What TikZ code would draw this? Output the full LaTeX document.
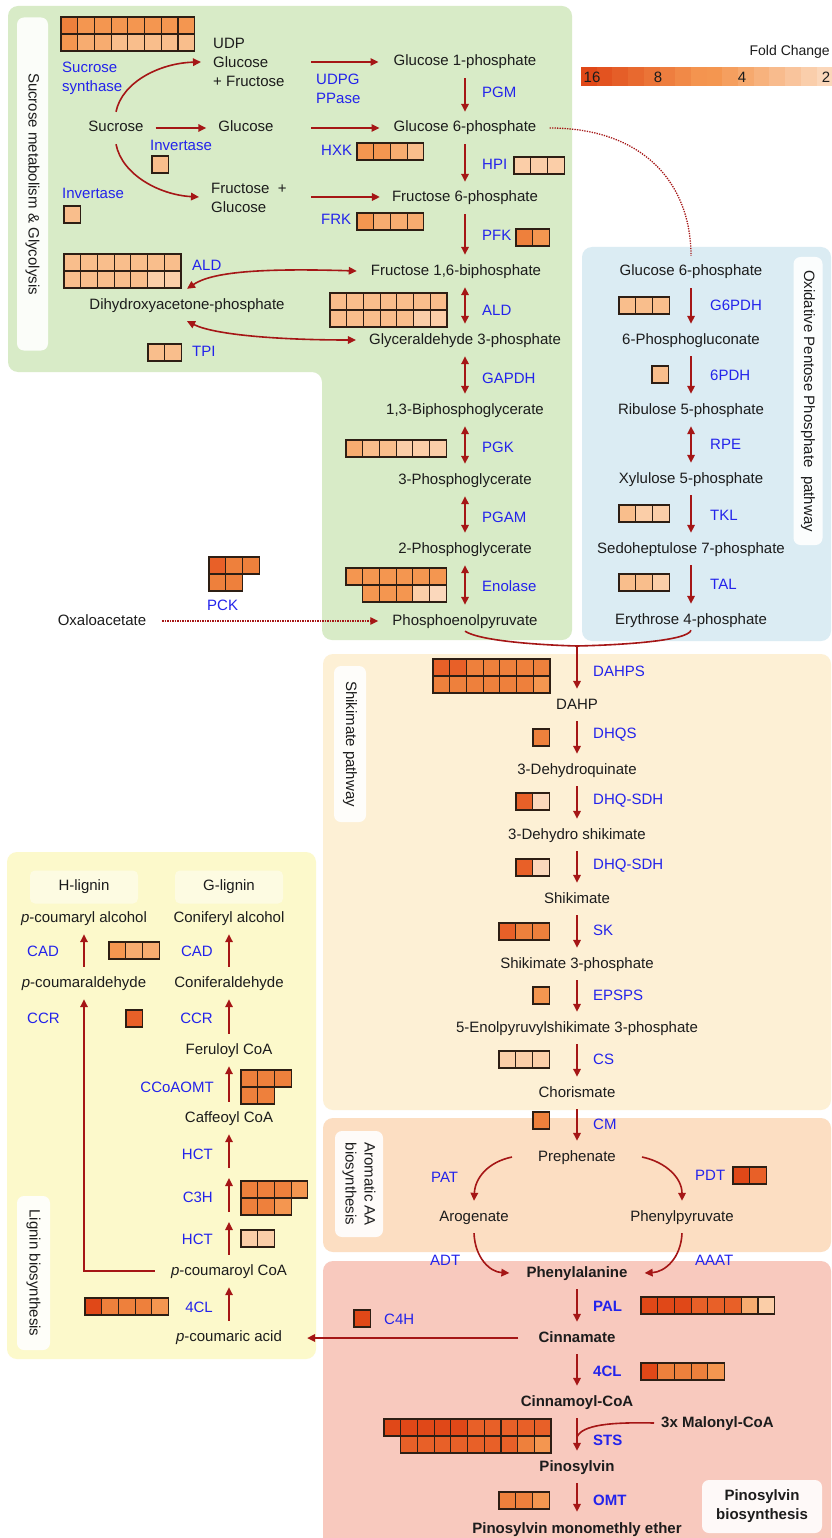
\documentclass[tikz,border=0pt]{standalone}
\usepackage{fontspec}
\setmainfont{Liberation Sans}
\usetikzlibrary{arrows.meta}
\definecolor{arrc}{RGB}{165,22,22}
\definecolor{labc}{RGB}{35,35,235}
\definecolor{txtc}{RGB}{28,28,28}
\definecolor{pgreen}{RGB}{216,235,199}
\definecolor{pblue}{RGB}{219,236,243}
\definecolor{pcream}{RGB}{253,240,213}
\definecolor{porange}{RGB}{252,222,194}
\definecolor{psalmon}{RGB}{248,201,190}
\definecolor{pyellow}{RGB}{252,249,203}
\definecolor{cellb}{RGB}{45,30,20}
\definecolor{ha}{RGB}{224,72,24}
\definecolor{hb}{RGB}{232,96,40}
\definecolor{hc}{RGB}{238,128,60}
\definecolor{hd}{RGB}{244,150,80}
\definecolor{he}{RGB}{247,172,112}
\definecolor{hf}{RGB}{249,190,140}
\definecolor{hg}{RGB}{251,206,168}
\definecolor{hh}{RGB}{251,216,188}
\newcommand\hmrow[3]{\foreach \cc [count=\ii from 0] in {#3}{\draw[cell,fill=\cc] ({#1+\ii*16.7},#2) rectangle ++(16.7,17);}}
\tikzset{
  met/.style={text=txtc, inner xsep=2pt, inner ysep=0pt, text height=11pt, text depth=3pt, minimum height=32pt},
  bmet/.style={met, font=\fontsize{15}{18}\selectfont\bfseries},
  enz/.style={text=labc, inner sep=0pt, anchor=west},
  enzr/.style={text=labc, inner sep=0pt, anchor=east},
  benz/.style={enz, font=\fontsize{15}{18}\selectfont\bfseries},
  conn/.style={draw=arrc, line width=1.6pt},
  arr/.style={conn, -{Triangle[length=8pt,width=7.5pt]}},
  darr/.style={conn, {Triangle[length=8pt,width=7.5pt]}-{Triangle[length=8pt,width=7.5pt]}},
  dotarr/.style={draw=arrc, line width=1.3pt, dash pattern=on 1.3pt off 1.2pt, -{Triangle[length=8pt,width=7.5pt]}},
  dotline/.style={draw=arrc, line width=1.3pt, dash pattern=on 1.3pt off 1.2pt},
  cell/.style={draw=cellb, line width=1.2pt},
  tag/.style={fill=white, fill opacity=0.9, text opacity=1, rounded corners=7pt, inner sep=0pt, text=txtc},
  subtag/.style={fill=white, fill opacity=0.45, text opacity=1, rounded corners=5pt, inner sep=0pt, text=txtc},
  multi/.style={text=txtc, align=left, anchor=west, inner sep=0pt, font=\fontsize{15}{19}\selectfont},
}
\begin{document}
\begin{tikzpicture}[x=1pt,y=-1pt,font=\fontsize{15}{18}\selectfont]
\useasboundingbox (0,0) rectangle (831,1538);
\fill[white] (0,0) rectangle (831,1538);
% panels
\fill[pgreen,rounded corners=10pt] (8,6) -- (572,6) -- (572,640) -- (322,640) -- (322,372) -- (8,372) -- cycle;
\fill[pblue,rounded corners=10pt] (582,247) rectangle (831,641);
\fill[pcream,rounded corners=10pt] (323,654) rectangle (831,1110);
\fill[porange,rounded corners=10pt] (323,1118) rectangle (831,1252);
\fill[psalmon,rounded corners=10pt] (323,1261) rectangle (831,1560);
\fill[pyellow,rounded corners=10pt] (7,852) rectangle (316,1359);
% tags
\node[tag, rotate=-90, minimum width=333pt, minimum height=31pt] (tsuc) at (32.5,184) {Sucrose metabolism \& Glycolysis};
\node[tag, rotate=-90, minimum width=288pt, minimum height=29pt] (topp) at (808,401) {Oxidative Pentose Phosphate\ \ pathway};
\node[tag, rotate=-90, minimum width=156pt, minimum height=32pt] (tshk) at (350,744) {Shikimate pathway};
\node[tag, rotate=-90, minimum width=106pt, minimum height=48pt, align=center, font=\fontsize{15}{19}\selectfont] (taro) at (359,1184) {Aromatic AA\\biosynthesis};
\node[tag, rotate=-90, minimum width=154pt, minimum height=33pt] (tlig) at (33.5,1273) {Lignin biosynthesis};
\node[tag, minimum width=120pt, minimum height=53pt, align=center, font=\fontsize{15}{19}\selectfont\bfseries] (tpin) at (762,1506.5) {Pinosylvin\\biosynthesis};
\node[subtag, minimum width=108pt, minimum height=33pt] (thl) at (84,887) {H-lignin};
\node[subtag, minimum width=108pt, minimum height=33pt] (tgl) at (229,887) {G-lignin};
% legend
\node[anchor=east, inner sep=0pt, text=txtc, font=\fontsize{14}{16}\selectfont] (fc) at (830,52) {Fold Change};
\foreach \k in {0,...,7}{\pgfmathtruncatemacro\pp{100-\k*14}\fill[ha!\pp!hd] ({581+\k*15.7},67) rectangle ++(16,19);}
\foreach \k in {8,...,15}{\pgfmathtruncatemacro\pp{100-(\k-8)*14}\fill[hd!\pp!hh] ({581+\k*15.7},67) rectangle ++(16,19);}
\node[text=txtc, inner sep=0pt] (l16) at (592,77) {16};
\node[text=txtc, inner sep=0pt] (l8) at (658,77) {8};
\node[text=txtc, inner sep=0pt] (l4) at (742,77) {4};
\node[text=txtc, inner sep=0pt] (l2) at (826,77) {2};
% sucrose metabolism
\node[met] (suc) at (116,128) {Sucrose};
\node[met] (glc) at (246,128) {Glucose};
\node[multi] (udp) at (213,62) {UDP\\Glucose\\+ Fructose};
\node[multi] (frg) at (211,197.5) {Fructose\ \ +\\Glucose};
\node[enz, align=left, font=\fontsize{15}{19}\selectfont] (esus) at (62,78.5) {Sucrose\\synthase};
\node[enz] (einv1) at (150,145) {Invertase};
\node[enz] (einv2) at (62,193) {Invertase};
\node[enz, align=left, font=\fontsize{15}{19}\selectfont] (eudpg) at (316,88.5) {UDPG\\PPase};
% glycolysis
\node[met] (g1p) at (465,62) {Glucose 1-phosphate};
\node[met] (g6p) at (465,128) {Glucose 6-phosphate};
\node[met] (f6p) at (465,198) {Fructose 6-phosphate};
\node[met] (f16) at (456,271) {Fructose 1,6-biphosphate};
\node[met] (ga3p) at (465,340) {Glyceraldehyde 3-phosphate};
\node[met] (bpg) at (465,410) {1,3-Biphosphoglycerate};
\node[met] (pg3) at (465,480) {3-Phosphoglycerate};
\node[met] (pg2) at (465,549) {2-Phosphoglycerate};
\node[met] (pep) at (465,621) {Phosphoenolpyruvate};
\node[met] (dhap) at (187,305) {Dihydroxyacetone-phosphate};
\node[met] (oaa) at (102,621) {Oxaloacetate};
\node[enz] (epgm) at (482,92) {PGM};
\node[enz] (ehxk) at (321,150) {HXK};
\node[enz] (ehpi) at (482,164) {HPI};
\node[enz] (efrk) at (321,219) {FRK};
\node[enz] (epfk) at (482,235) {PFK};
\node[enz] (eald1) at (192,265) {ALD};
\node[enz] (eald2) at (482,310) {ALD};
\node[enz] (etpi) at (192,351) {TPI};
\node[enz] (egap) at (482,378) {GAPDH};
\node[enz] (epgk) at (482,447) {PGK};
\node[enz] (epgam) at (482,517) {PGAM};
\node[enz] (eeno) at (482,586) {Enolase};
\node[enz] (epck) at (207,605) {PCK};
% OPP
\node[met] (og6p) at (691,272) {Glucose 6-phosphate};
\node[met] (pgl) at (691,340) {6-Phosphogluconate};
\node[met] (ru5p) at (691,410) {Ribulose 5-phosphate};
\node[met] (xu5p) at (691,479) {Xylulose 5-phosphate};
\node[met] (s7p) at (691,549) {Sedoheptulose 7-phosphate};
\node[met] (e4p) at (691,620) {Erythrose 4-phosphate};
\node[enz] (eg6pdh) at (710,305) {G6PDH};
\node[enz] (e6pdh) at (710,375) {6PDH};
\node[enz] (erpe) at (710,444) {RPE};
\node[enz] (etkl) at (710,515) {TKL};
\node[enz] (etal) at (710,584) {TAL};
% shikimate
\node[met] (dahp) at (577,705) {DAHP};
\node[met] (dhq) at (577,770) {3-Dehydroquinate};
\node[met] (dhs) at (577,835) {3-Dehydro shikimate};
\node[met] (shk) at (577,899) {Shikimate};
\node[met] (s3p) at (577,964) {Shikimate 3-phosphate};
\node[met] (epsp) at (577,1028) {5-Enolpyruvylshikimate 3-phosphate};
\node[met] (cho) at (577,1093) {Chorismate};
\node[enz] (edahps) at (593,671) {DAHPS};
\node[enz] (edhqs) at (593,735) {DHQS};
\node[enz] (edhq1) at (593,801) {DHQ-SDH};
\node[enz] (edhq2) at (593,866) {DHQ-SDH};
\node[enz] (esk) at (593,930) {SK};
\node[enz] (eepsps) at (593,995) {EPSPS};
\node[enz] (ecs) at (593,1059) {CS};
\node[enz] (ecm) at (593,1124) {CM};
% aromatic AA
\node[met] (preph) at (577,1157) {Prephenate};
\node[met] (arog) at (474,1217) {Arogenate};
\node[met] (phepyr) at (682,1217) {Phenylpyruvate};
\node[enz] (epat) at (431,1177) {PAT};
\node[enz] (epdt) at (695,1175) {PDT};
\node[enz] (eadt) at (430,1260) {ADT};
\node[enz] (eaaat) at (695,1260) {AAAT};
% pinosylvin
\node[bmet] (phe) at (577,1273) {Phenylalanine};
\node[bmet] (cin) at (577,1338) {Cinnamate};
\node[bmet] (cincoa) at (577,1402) {Cinnamoyl-CoA};
\node[bmet] (pin) at (577,1467) {Pinosylvin};
\node[bmet] (pme) at (577,1529) {Pinosylvin monomethly ether};
\node[bmet, anchor=west, inner xsep=0pt] (mal) at (661,1423) {3x Malonyl-CoA};
\node[benz] (epal) at (593,1306) {PAL};
\node[benz] (e4cl) at (593,1371) {4CL};
\node[benz] (ests) at (593,1440) {STS};
\node[benz] (eomt) at (593,1500) {OMT};
\node[enz] (ec4h) at (384,1319) {C4H};
% lignin
\node[met] (pca) at (84,918) {\textit{p}-coumaryl alcohol};
\node[met] (cona) at (229,918) {Coniferyl alcohol};
\node[met] (pcald) at (84,983) {\textit{p}-coumaraldehyde};
\node[met] (conald) at (229,983) {Coniferaldehyde};
\node[met] (fer) at (229,1050) {Feruloyl CoA};
\node[met] (caf) at (229,1118) {Caffeoyl CoA};
\node[met] (pcoa) at (229,1271) {\textit{p}-coumaroyl CoA};
\node[met] (pcac) at (229,1337) {\textit{p}-coumaric acid};
\node[enz] (ecad1) at (27,951) {CAD};
\node[enz] (eccr1) at (27,1018) {CCR};
\node[enzr] (ecad2) at (213,951) {CAD};
\node[enzr] (eccr2) at (213,1018) {CCR};
\node[enzr] (eccoa) at (214,1087) {CCoAOMT};
\node[enzr] (ehct1) at (213,1154) {HCT};
\node[enzr] (ec3h) at (213,1197) {C3H};
\node[enzr] (ehct2) at (213,1239) {HCT};
\node[enzr] (e4cll) at (213,1307) {4CL};
% heat maps
\hmrow{61}{17}{hc,hd,hd,hd,hd,hd,hd,hd}
\hmrow{61}{34}{hd,he,he,hf,hf,hf,hf,hf}
\hmrow{152}{156}{hf}
\hmrow{64}{206}{hf}
\hmrow{357}{143}{hd,hd,he,hf}
\hmrow{357}{213}{hd,he,he,he}
\hmrow{514}{157}{hg,hg,hg}
\hmrow{516}{229}{hc,hd}
\hmrow{330}{293}{hf,hf,hf,hf,hf,hf,hf}
\hmrow{330}{310}{hf,hf,hf,hf,hf,hg,hg}
\hmrow{64}{254}{hf,hf,hf,hf,hf,hf,hf}
\hmrow{64}{271}{hf,hf,hf,hf,hf,hg,hg}
\hmrow{148}{344}{hf,hf}
\hmrow{346}{440}{he,hf,hf,hg,hg,hg}
\hmrow{346}{568}{hd,hd,hd,hd,hd,hd}
\hmrow{362.7}{585}{hd,hd,hd,hg,hh}
\hmrow{209}{557}{hb,hc,hc}
\hmrow{209}{574}{hc,hc}
\hmrow{619}{297}{hf,hf,hf}
\hmrow{652}{366}{hf}
\hmrow{619}{505}{hf,hg,hg}
\hmrow{619}{574}{hf,hf,hg}
\hmrow{433}{659}{hb,hb,hc,hc,hc,hc,hc}
\hmrow{433}{676}{hc,hc,hc,hc,hc,hc,hd}
\hmrow{533}{729}{hc}
\hmrow{516}{793}{hb,hh}
\hmrow{516}{859}{hb,hh}
\hmrow{499}{923}{hb,hc,hc}
\hmrow{533}{987}{hd}
\hmrow{499}{1051}{hg,hg,hg}
\hmrow{533}{1112}{hc}
\hmrow{733}{1167}{ha,hb}
\hmrow{641}{1297}{ha,ha,ha,hb,hb,hb,he,hg}
\hmrow{641}{1363}{ha,hc,hc,hc,hd}
\hmrow{384}{1419}{ha,ha,ha,ha,ha,hb,hb,hb,hb,hb}
\hmrow{400.7}{1436}{hb,hb,hb,hb,hb,hb,hb,hc,hd}
\hmrow{499}{1492}{hc,hc,hd}
\hmrow{354}{1310}{ha}
\hmrow{109}{942}{hd,he,he}
\hmrow{126}{1010}{hb}
\hmrow{241}{1070}{hc,hc,hc}
\hmrow{241}{1087}{hc,hc}
\hmrow{241}{1181}{hc,hc,hc,hd}
\hmrow{241}{1198}{hc,hc,hd}
\hmrow{241}{1230}{hg,hg}
\hmrow{85}{1298}{ha,hc,hc,hc,hd}
% coordinates for free ends
\coordinate (udpin) at (201,62);
\coordinate (frgin) at (199,197);
\coordinate (h1) at (311,62);
\coordinate (h2) at (311,128);
\coordinate (h3) at (311,197);
\coordinate (mrg) at (577,646);
\coordinate (hcta) at (229,1168);
\coordinate (c3ha) at (229,1212);
\coordinate (c3hb) at (229,1178);
\coordinate (hctb) at (229,1222);
% connectors: sucrose
\draw[arr] (suc.north) .. controls (122,82) and (160,63) .. (udpin);
\draw[arr] (suc.south) .. controls (122,175) and (160,195) .. (frgin);
\draw[arr] ([xshift=10pt]suc.east) -- ([xshift=-10pt]glc.west);
\draw[arr] (h1) -- ([xshift=-13pt]g1p.west);
\draw[arr] (h2) -- ([xshift=-12pt]g6p.west);
\draw[arr] (h3) -- ([xshift=-10pt]f6p.west |- h3);
% glycolysis
\draw[arr] (g1p) -- (g6p);
\draw[arr] (g6p) -- (f6p);
\draw[arr] (f6p) -- (f6p |- f16.north);
\draw[darr] (f16.south -| f6p) -- (ga3p);
\draw[darr] (ga3p) -- (bpg);
\draw[darr] (bpg) -- (pg3);
\draw[darr] (pg3) -- (pg2);
\draw[darr] (pg2) -- (pep);
\draw[darr] ([xshift=-12pt]f16.west) .. controls (260,268) and (212,272) .. (dhap.north);
\draw[darr] (dhap.south) .. controls (215,335) and (280,340) .. ([xshift=-11pt]ga3p.west);
\draw[dotarr] ([xshift=14pt]oaa.east) -- ([xshift=-12pt]pep.west);
\draw[dotline] ([xshift=11pt]g6p.east) .. controls (645,128) and (691,185) .. (og6p.north);
% OPP
\draw[arr] (og6p) -- (pgl);
\draw[arr] (pgl) -- (ru5p);
\draw[darr] (ru5p) -- (xu5p);
\draw[arr] (xu5p) -- (s7p);
\draw[arr] (s7p) -- (e4p);
% merge into shikimate
\draw[conn] ([yshift=6pt]pep.south) .. controls (480,641) and (540,645) .. (mrg);
\draw[conn] ([yshift=6pt]e4p.south) .. controls (688,641) and (620,645) .. (mrg);
\draw[arr] (mrg) -- (dahp);
\draw[arr] (dahp) -- (dhq);
\draw[arr] (dhq) -- (dhs);
\draw[arr] (dhs) -- (shk);
\draw[arr] (shk) -- (s3p);
\draw[arr] (s3p) -- (epsp);
\draw[arr] (epsp) -- (cho);
\draw[arr] (cho) -- (preph);
% aromatic AA
\draw[arr] ([xshift=-24pt]preph.west) .. controls (488,1162) and (475,1178) .. (arog.north);
\draw[arr] ([xshift=24pt]preph.east) .. controls (666,1162) and (682,1178) .. (phepyr.north);
\draw[arr] (arog.south) .. controls (475,1258) and (490,1272) .. ([xshift=-15pt]phe.west);
\draw[arr] (phepyr.south) .. controls (681,1258) and (665,1272) .. ([xshift=15pt]phe.east);
% pinosylvin
\draw[arr] (phe) -- (cin);
\draw[arr] (cin) -- (cincoa);
\draw[arr] (cincoa) -- (pin);
\draw[arr] (pin) -- ([yshift=1pt]pme.north);
\draw[conn] ([xshift=-7pt]mal.west) .. controls (610,1422) and (582,1425) .. (577,1437);
\draw[arr] ([xshift=-18pt]cin.west) -- ([xshift=23pt]pcac.east |- cin);
% lignin
\draw[arr] (pcald) -- (pca);
\draw[arr] (conald) -- (cona);
\draw[arr] (fer) -- (conald);
\draw[arr] (caf) -- (fer);
\draw[arr] (hcta) -- (caf);
\draw[arr] (c3ha) -- (c3hb);
\draw[arr] (pcoa) -- (hctb);
\draw[arr] (pcac) -- (pcoa);
\draw[arr] ([xshift=-14pt]pcoa.west) -| (pcald.south);
\end{tikzpicture}
\end{document}
